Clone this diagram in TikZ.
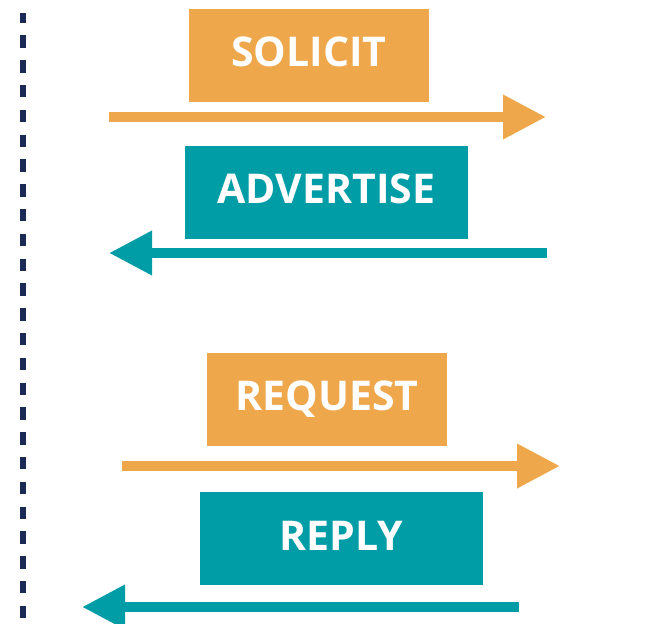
\documentclass[tikz,border=0pt]{standalone}
\usepackage{fontspec}
\setmainfont{Open Sans}
\usetikzlibrary{arrows.meta}
\definecolor{msgorange}{HTML}{EEA84B}
\definecolor{msgteal}{HTML}{009DA7}
\definecolor{linknavy}{HTML}{1B2A55}
\begin{document}
\begin{tikzpicture}[x=1pt,y=-1pt,line cap=butt,
  msgbox/.style={rectangle,inner sep=0pt,minimum height=93pt,text=white,
    font=\fontsize{41}{41}\selectfont\bfseries,text height=30pt,text depth=7pt},
  msgarrow/.style={line width=10pt,-{Triangle[length=43pt,width=42pt]}}]
  \useasboundingbox (0,0) rectangle (657,624);
  \draw[linknavy,line width=6pt,dash pattern=on 12.5pt off 12.3pt,dash phase=2.5pt] (22.5,13) -- (22.5,624);
  % router solicitation / advertisement
  \node[msgbox,fill=msgorange,minimum width=240pt] (solicit) at (309,55.3) {SOLICIT};
  \coordinate (solicit-from) at (109,117);
  \coordinate (solicit-to) at (546,117);
  \draw[msgarrow,msgorange] (solicit-from) -- (solicit-to);
  \node[msgbox,fill=msgteal,minimum width=283pt] (advertise) at (326.5,192.3) {ADVERTISE};
  \coordinate (advertise-from) at (547,253);
  \coordinate (advertise-to) at (109,253);
  \draw[msgarrow,msgteal] (advertise-from) -- (advertise-to);
  % request / reply
  \node[msgbox,fill=msgorange,minimum width=240pt] (request) at (327,399.2) {REQUEST};
  \coordinate (request-from) at (122,466);
  \coordinate (request-to) at (560,466);
  \draw[msgarrow,msgorange] (request-from) -- (request-to);
  \node[msgbox,fill=msgteal,minimum width=283pt] (reply) at (341,538.5) {REPLY};
  \coordinate (reply-from) at (519,607);
  \coordinate (reply-to) at (82,607);
  \draw[msgarrow,msgteal] (reply-from) -- (reply-to);
\end{tikzpicture}
\end{document}
